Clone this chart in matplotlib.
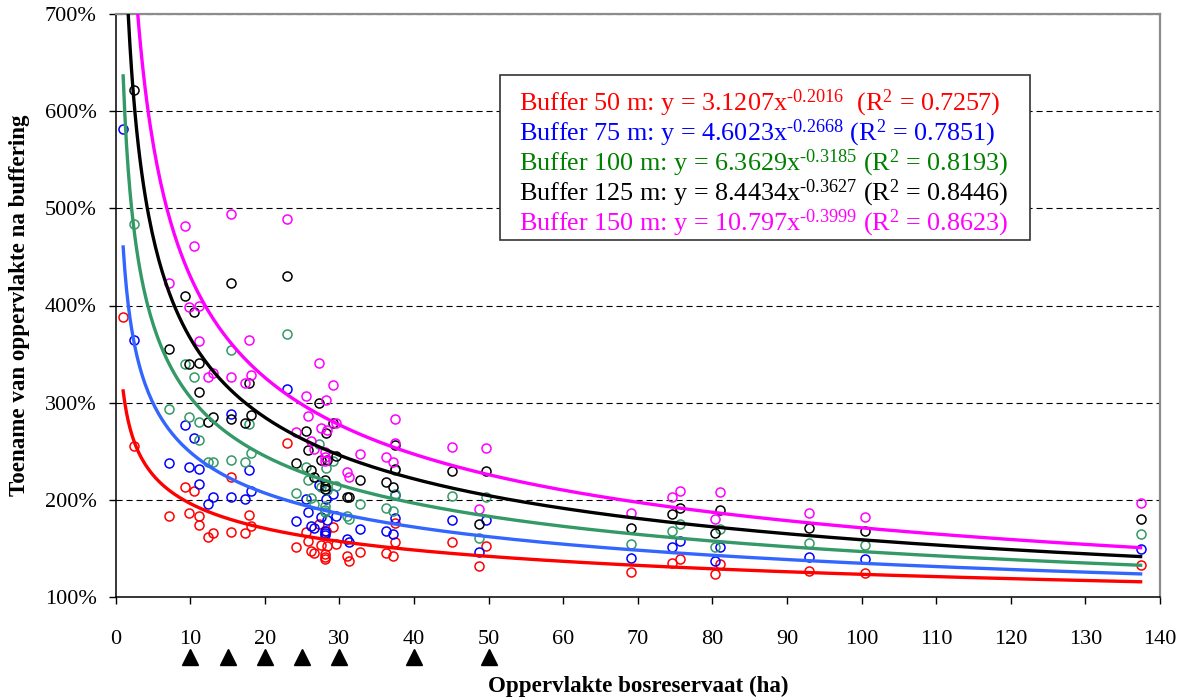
import numpy as np
import matplotlib
matplotlib.use('Agg')
import matplotlib.pyplot as plt
import matplotlib.transforms as mtransforms
from matplotlib.patches import Rectangle

plt.rcParams['font.family'] = ['Liberation Serif', 'DejaVu Serif']
plt.rcParams['mathtext.fontset'] = 'custom'
plt.rcParams['mathtext.rm'] = 'Liberation Serif'
plt.rcParams['mathtext.it'] = 'Liberation Serif:italic'
plt.rcParams['mathtext.bf'] = 'Liberation Serif:bold'

# ---------------- data ----------------
reserve_area = [1.0, 2.4, 7.2, 9.3, 9.8, 10.5, 11.2, 11.2, 12.4, 13.0, 15.5, 15.5,
                17.4, 17.9, 18.1, 22.9, 24.2, 25.5, 25.8, 26.2, 26.6, 27.3, 27.5,
                28.0, 28.0, 28.1, 28.2, 28.3, 29.1, 29.5, 31.0, 31.3, 32.8, 36.3,
                37.2, 37.5, 37.5, 45.1, 48.7, 49.7, 69.1, 74.6, 75.6, 80.4, 81.0,
                93.0, 100.5, 137.4]

buffer_50 = [388, 255, 183, 213, 186, 208.7, 183.5, 173.9, 162, 165.4, 223, 166.7,
             165.4, 183.9, 172.9, 259, 151, 167, 157.8, 147.5, 145.5, 175.1, 153.4,
             144.1, 141.3, 139.5, 168, 152.3, 172.3, 154.1, 142, 136.9, 145.9, 145.5,
             142, 156.1, 175.7, 156.1, 131.7, 152.3, 125.5, 134.8, 138.6, 124.1, 133.8,
             126.9, 125.2, 132.8]

buffer_75 = [582, 365, 237.5, 277, 234, 264, 231.7, 216.6, 196, 202.5, 288, 203,
             200.7, 230.6, 209.4, 314, 178.4, 200.4, 187.3, 173, 170.6, 215.2, 181.9,
             168.1, 165.4, 163.6, 200.4, 179.1, 205.9, 183.2, 160.2, 156.7, 170.2, 167.7,
             164.7, 180.8, 204.8, 179.1, 146.5, 179.1, 140.3, 151.7, 157.6, 136.9, 151.7,
             141, 139, 149]

buffer_100 = [np.nan, 484, 293, 340, 285.5, 326.7, 280.4, 261.5, 238.8, 238.8, 354, 241.5,
              238.8, 277.6, 247.8, 371, 207.5, 234, 220.5, 201.4, 195.6, 257.3, 213,
              193.5, 189.4, 187, 232.6, 210, 240, 214, 183.2, 179.8, 195.2, 192,
              188.7, 205.9, 231, 203.9, 160.3, 203.1, 154.8, 168.3, 174.8, 151.7, 170.3,
              155.5, 153.1, 164.8]

buffer_125 = [np.nan, 622, 355.5, 410, 340, 393, 340.4, 310.6, 280.4, 285.5, 423, 282.8,
              278.6, 320.5, 287.5, 430, 238.3, 270.4, 251.7, 230.6, 223.1, 299.2, 241.5,
              220, 214.2, 211, 268.3, 241, 279.4, 245, 203.1, 203.1, 220.3, 218.3,
              213.4, 231.3, 256.3, 229.6, 175.1, 229.6, 170.7, 185.5, 192.1, 166.2, 189.3,
              170.7, 167.9, 180.7]

buffer_150 = [np.nan, np.nan, 423, 482, 398, 461, 399.4, 363.4, 326.7, 330.8, 494, 326.7,
              320.5, 364.4, 328, 489, 270, 306.8, 286.2, 260.8, 252, 341, 273.5,
              249, 244.3, 240, 302.6, 272, 317.8, 278.7, 228.2, 223.7, 247.2, 244.3,
              238.5, 258, 283, 254.2, 190.1, 253.1, 186.2, 202.8, 209, 180.7, 207.6,
              186.2, 182.8, 196.6]

buffer_names = ['Buffer 50 m', 'Buffer 75 m', 'Buffer 100 m', 'Buffer 125 m', 'Buffer 150 m']
fit_coef = ['3.1207', '4.6023', '6.3629', '8.4434', '10.797']
fit_exp = ['-0.2016', '-0.2668', '-0.3185', '-0.3627', '-0.3999']
fit_r2 = ['0.7257', '0.7851', '0.8193', '0.8446', '0.8623']

y_ticks = [100, 200, 300, 400, 500, 600, 700]
x_ticks = list(range(0, 141, 10))
marked_sizes = [10, 15, 20, 25, 30, 40, 50]

series = [buffer_50, buffer_75, buffer_100, buffer_125, buffer_150]
point_colors = ['#FF0000', '#0000FF', '#339966', '#000000', '#FF00FF']
curve_colors = ['#FF0000', '#3366FF', '#339966', '#000000', '#FF00FF']
text_colors = ['#FF0000', '#0000FF', '#008000', '#000000', '#FF00FF']

# ---------------- figure ----------------
W, H = 1186, 699
fig = plt.figure(figsize=(W / 100, H / 100), dpi=100)
ax = fig.add_axes([115.7 / W, 1 - 597 / H, (1160 - 115.7) / W, (597 - 14) / H])

xa = np.array(reserve_area)
for ys, c in zip(series, point_colors):
    ax.plot(xa, ys, linestyle='none', marker='o', markersize=6.5,
            markerfacecolor='none', markeredgecolor=c, markeredgewidth=1.1, zorder=3)

xs = np.linspace(min(reserve_area), max(reserve_area), 600)
for a, b, c in zip(fit_coef, fit_exp, curve_colors):
    ax.plot(xs, 100 * float(a) * xs ** float(b), color=c, lw=2.4, zorder=4)

ax.set_xlim(0, 140)
ax.set_ylim(100, 700)
ax.set_xticks(x_ticks)
ax.set_xticklabels([str(v) for v in x_ticks])
ax.set_yticks(y_ticks)
ax.set_yticklabels([f'{v}%' for v in y_ticks])
ax.tick_params(axis='both', direction='out', length=4.8, width=1, labelsize=16, colors='black')
ax.tick_params(axis='x', pad=19)
ax.tick_params(axis='y', pad=9)

ax.yaxis.grid(True, color='black', linestyle=(0, (5.5, 3.5)), linewidth=0.8)
ax.set_axisbelow(True)
for s in ['left', 'bottom']:
    ax.spines[s].set_color('black')
    ax.spines[s].set_linewidth(1.1)
for s in ['top', 'right']:
    ax.spines[s].set_color('#8c8c8c')
    ax.spines[s].set_linewidth(1.6)

# triangles under the x axis
trans = mtransforms.blended_transform_factory(ax.transData, fig.transFigure)
ax.plot(marked_sizes, [1 - 656.5 / H] * len(marked_sizes), linestyle='none', marker='^',
        markersize=12, color='black', transform=trans, clip_on=False)

fig.text(638 / W, 1 - 686 / H, 'Oppervlakte bosreservaat (ha)', ha='center', va='center',
         fontsize=16.6, fontweight='bold')
fig.text(20 / W, 1 - 305 / H, 'Toename van oppervlakte na buffering', ha='center', va='center',
         rotation=90, fontsize=16.6, fontweight='bold')

# equation box
fig.patches.append(Rectangle((500 / W, 1 - 240 / H), 530 / W, 165 / H, transform=fig.transFigure,
                             facecolor='white', edgecolor='#333333', linewidth=1.2, zorder=5))
for i, (nm, a, b, r2, c) in enumerate(zip(buffer_names, fit_coef, fit_exp, fit_r2, text_colors)):
    gap = '  ' if i == 0 else ' '
    s = nm + ': y = ' + a + 'x$^{\\text{' + b + '}}$' + gap + '(R$^{\\text{2}}$ = ' + r2 + ')'
    fig.text(519 / W, 1 - (110 + 30 * i) / H, s, color=c, fontsize=18.8, ha='left', va='baseline',
             zorder=6)

fig.savefig('out.png', dpi=100)
